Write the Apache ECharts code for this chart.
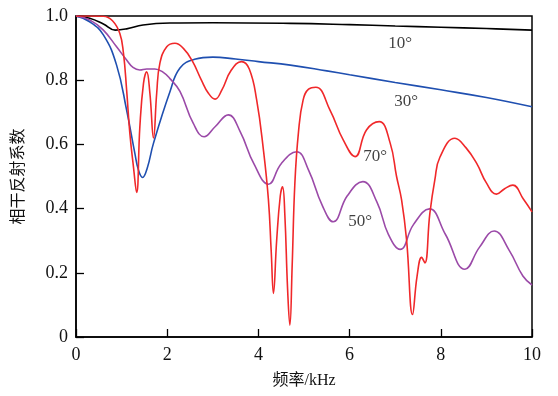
<!DOCTYPE html>
<html>
<head>
<meta charset="utf-8">
<script src="https://cdn.jsdelivr.net/npm/echarts@6/dist/echarts.min.js"></script>
<style>
  html, body { margin: 0; padding: 0; background: #fff; }
  #chart { width: 558px; height: 396px; }
</style>
</head>
<body>
<div id="chart"></div>
<script>
// 频率 (kHz), 相干反射系数
const xTicks = [0, 2, 4, 6, 8, 10];
const yTicks = [0, 0.2, 0.4, 0.6, 0.8, 1.0];

const deg10 = [
  [0, 1], [0.3, 0.993], [0.6, 0.975], [0.86, 0.956], [1.11, 0.96], [1.47, 0.972],
  [2.06, 0.978], [3, 0.979], [4.7, 0.977], [6, 0.973], [7, 0.969], [8, 0.965],
  [9, 0.961], [10, 0.956]
];

const deg30 = [
  [0, 1], [0.3, 0.982], [0.6, 0.941], [0.89, 0.847], [1.11, 0.707], [1.29, 0.573],
  [1.37, 0.52], [1.46, 0.497], [1.56, 0.525], [1.70, 0.604], [2.06, 0.764],
  [2.28, 0.838], [2.6, 0.865], [3.0, 0.872], [3.5, 0.866], [4.0, 0.858],
  [4.7, 0.847], [5.5, 0.829], [6, 0.817], [7, 0.793], [8, 0.77], [9, 0.746],
  [10, 0.717]
];

const deg50 = [
  [0, 1], [0.3, 0.988], [0.6, 0.956], [0.89, 0.904], [1.11, 0.863], [1.25, 0.84],
  [1.4, 0.832], [1.55, 0.835], [1.73, 0.835], [1.9, 0.826], [2.06, 0.805],
  [2.28, 0.765], [2.57, 0.666], [2.81, 0.624], [3.05, 0.655], [3.34, 0.692],
  [3.6, 0.64], [3.9, 0.54], [4.22, 0.476], [4.5, 0.54], [4.84, 0.577], [5.1, 0.52],
  [5.4, 0.41], [5.64, 0.359], [5.95, 0.44], [6.29, 0.484], [6.6, 0.42], [6.85, 0.32],
  [7.11, 0.273], [7.4, 0.35], [7.75, 0.399], [8.1, 0.32], [8.53, 0.211], [8.85, 0.28],
  [9.17, 0.33], [9.5, 0.27], [9.8, 0.19], [10, 0.162]
];

const deg70 = [
  [0, 1], [0.3, 1], [0.6, 0.999], [0.8, 0.985], [0.96, 0.946], [1.04, 0.885],
  [1.11, 0.77], [1.18, 0.636], [1.26, 0.53], [1.33, 0.45], [1.40, 0.654],
  [1.48, 0.79], [1.55, 0.826], [1.62, 0.76], [1.70, 0.62], [1.77, 0.76],
  [1.84, 0.853], [1.99, 0.904], [2.17, 0.915], [2.35, 0.9], [2.55, 0.86],
  [2.75, 0.8], [2.9, 0.76], [3.05, 0.741], [3.2, 0.77], [3.4, 0.83], [3.63, 0.858],
  [3.8, 0.835], [3.96, 0.74], [4.11, 0.583], [4.22, 0.427], [4.28, 0.27],
  [4.33, 0.136], [4.40, 0.3], [4.48, 0.44], [4.53, 0.468], [4.58, 0.38],
  [4.64, 0.15], [4.69, 0.037], [4.74, 0.22], [4.80, 0.48], [4.88, 0.64],
  [4.98, 0.738], [5.1, 0.772], [5.26, 0.778], [5.57, 0.707], [5.86, 0.614],
  [6.12, 0.562], [6.37, 0.645], [6.65, 0.671], [6.89, 0.604], [7.03, 0.5],
  [7.14, 0.427], [7.25, 0.302], [7.38, 0.07], [7.48, 0.19], [7.58, 0.248],
  [7.65, 0.231], [7.76, 0.385], [7.87, 0.49], [7.98, 0.56], [8.31, 0.619],
  [8.55, 0.59], [8.79, 0.54], [9.0, 0.48], [9.22, 0.445], [9.4, 0.462],
  [9.58, 0.473], [9.81, 0.43], [10, 0.39]
];

// 曲线标注
const notes = [
  { text: '10°', at: [7.11, 0.913] },
  { text: '30°', at: [7.24, 0.732] },
  { text: '70°', at: [6.56, 0.561] },
  { text: '50°', at: [6.23, 0.361] }
];

const serif = "'Liberation Serif', 'Noto Sans CJK SC', serif";

const chart = echarts.init(document.getElementById('chart'));

function line(name, data, color) {
  return {
    name: name,
    type: 'line',
    data: data,
    smooth: 0.45,
    showSymbol: false,
    symbol: 'none',
    lineStyle: { color: color, width: 1.6 },
    z: 3
  };
}

const option = {
  animation: false,
  backgroundColor: '#fff',
  grid: {
    left: 76, right: 26, top: 16, bottom: 59,
    show: true, borderColor: '#000', borderWidth: 1.5
  },
  xAxis: {
    type: 'value',
    min: 0, max: 10, interval: 2,
    name: '频率/kHz',
    nameLocation: 'middle',
    nameGap: 36,
    nameTextStyle: { fontFamily: serif, fontSize: 16, color: '#111' },
    axisLine: { lineStyle: { color: '#000', width: 1.5 } },
    axisTick: { inside: true, length: 8, lineStyle: { color: '#000', width: 1.3 } },
    axisLabel: { fontFamily: serif, fontSize: 18, color: '#111', margin: 9 },
    splitLine: { show: false }
  },
  yAxis: {
    type: 'value',
    min: 0, max: 1, interval: 0.2,
    name: '相干反射系数',
    nameLocation: 'middle',
    nameRotate: 90,
    nameGap: 49,
    nameTextStyle: { fontFamily: serif, fontSize: 16, color: '#111' },
    axisLine: { lineStyle: { color: '#000', width: 1.5 } },
    axisTick: { inside: true, length: 8, lineStyle: { color: '#000', width: 1.3 } },
    axisLabel: {
      fontFamily: serif, fontSize: 18, color: '#111', margin: 8,
      formatter: v => (v === 0 ? '0' : v.toFixed(1))
    },
    splitLine: { show: false }
  },
  series: [
    line('10°', deg10, '#000000'),
    line('30°', deg30, '#1f4fb0'),
    line('50°', deg50, '#9b4aa8'),
    line('70°', deg70, '#f0282a'),
    {
      type: 'scatter',
      data: notes.map(n => ({ value: n.at, label: { formatter: n.text } })),
      symbolSize: 0,
      silent: true,
      label: {
        show: true, position: 'inside',
        fontFamily: serif, fontSize: 17, color: '#111'
      },
      z: 5
    }
  ]
};

chart.setOption(option);
</script>
</body>
</html>
